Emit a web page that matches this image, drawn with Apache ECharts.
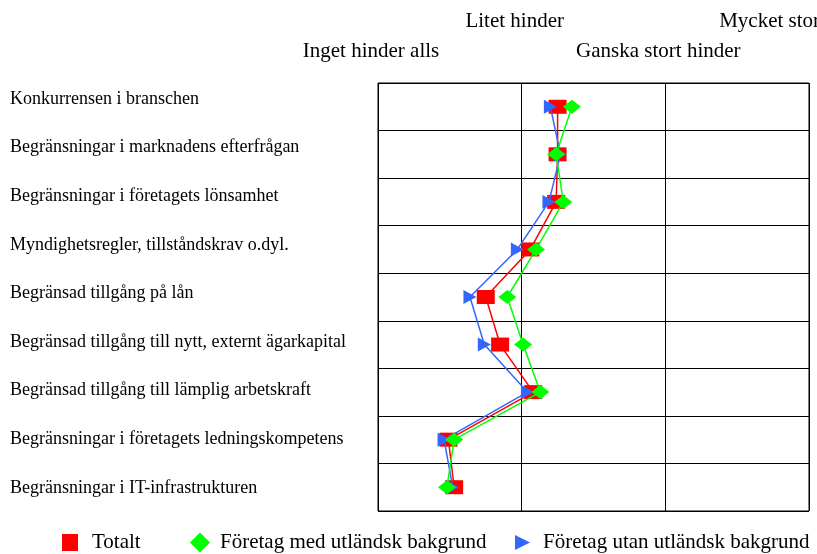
<!DOCTYPE html>
<html><head><meta charset="utf-8">
<script src="https://cdn.jsdelivr.net/npm/echarts@6/dist/echarts.min.js"></script>
<style>html,body{margin:0;padding:0;background:#fff}#c{width:817px;height:554px}</style>
</head><body><div id="c"></div>
<script>
const categories = [
  "Konkurrensen i branschen",
  "Begränsningar i marknadens efterfrågan",
  "Begränsningar i företagets lönsamhet",
  "Myndighetsregler, tillståndskrav o.dyl.",
  "Begränsad tillgång på lån",
  "Begränsad tillgång till nytt, externt ägarkapital",
  "Begränsad tillgång till lämplig arbetskraft",
  "Begränsningar i företagets ledningskompetens",
  "Begränsningar i IT-infrastrukturen"
];
const scaleLabels = ["Inget hinder alls", "Litet hinder", "Ganska stort hinder", "Mycket stort hinder"];
const totalt = [2.25, 2.25, 2.24, 2.06, 1.75, 1.85, 2.08, 1.49, 1.53];
const medUtl = [2.35, 2.24, 2.29, 2.10, 1.90, 2.01, 2.13, 1.53, 1.48];
const utanUtl = [2.20, 2.27, 2.19, 1.97, 1.64, 1.74, 2.04, 1.46, 1.52];
const seriesNames = ["Totalt", "Företag med utländsk bakgrund", "Företag utan utländsk bakgrund"];

const font = "'Liberation Serif','Times New Roman',serif";
const chart = echarts.init(document.getElementById('c'), null, {renderer: 'canvas'});
function toPairs(arr){ return arr.map((v,i)=>[v, categories[i]]); }
const triPath = 'path://M0,0 L10,5 L0,10 Z';
function scaleLabel(parity){
  return function(v){ const i = Math.round(v) - 1; return (i % 2 === parity) ? (scaleLabels[i] || '') : ''; };
}
const topLabelStyle = {fontFamily: font, fontSize: 21, color: '#000', padding: [0, 14, 0, 0],
  showMinLabel: true, showMaxLabel: true, hideOverlap: false};
chart.setOption({
  animation: false,
  textStyle: {fontFamily: font},
  grid: [
    {left: 378, top: 83, width: 431, height: 428, outerBoundsMode: 'none', containLabel: false,
     show: true, borderColor: '#000', borderWidth: 1, backgroundColor: 'transparent'},
    {left: 378, top: 74.7, width: 431, height: 437.6, outerBoundsMode: 'none', containLabel: false, show: false}
  ],
  xAxis: [
    {type: 'value', gridIndex: 0, position: 'top', min: 1, max: 4, interval: 1,
     axisLine: {show: false}, axisTick: {show: false},
     splitLine: {show: true, lineStyle: {color: '#000', width: 1}},
     axisLabel: Object.assign({margin: 21, formatter: scaleLabel(0)}, topLabelStyle)},
    {type: 'value', gridIndex: 0, position: 'top', min: 1, max: 4, interval: 1,
     axisLine: {show: false}, axisTick: {show: false}, splitLine: {show: false},
     axisLabel: Object.assign({margin: 51, formatter: scaleLabel(1)}, topLabelStyle)},
    {type: 'value', gridIndex: 1, show: false, min: 1, max: 4}
  ],
  yAxis: [
    {type: 'category', gridIndex: 0, data: categories, inverse: true,
     axisLine: {show: false}, axisTick: {show: false}, axisLabel: {show: false},
     splitLine: {show: true, lineStyle: {color: '#000', width: 1}}},
    {type: 'category', gridIndex: 1, data: categories, inverse: true,
     axisLine: {show: false}, axisTick: {show: false}, splitLine: {show: false},
     axisLabel: {fontFamily: font, fontSize: 18, color: '#000', align: 'left', margin: 368}}
  ],
  legend: [
    {data: [{name: seriesNames[0], icon: 'rect'}], left: 57, top: 527, itemWidth: 16, itemHeight: 17, itemGap: 0,
     textStyle: {fontFamily: font, fontSize: 21, color: '#000', padding: [0,0,0,9]}},
    {data: [{name: seriesNames[1], icon: 'diamond'}], left: 185, top: 527, itemWidth: 20, itemHeight: 20, itemGap: 0,
     textStyle: {fontFamily: font, fontSize: 21, color: '#000', padding: [0,0,0,5]}},
    {data: [{name: seriesNames[2], icon: triPath}], left: 510, top: 527, itemWidth: 15, itemHeight: 18, itemGap: 0,
     textStyle: {fontFamily: font, fontSize: 21, color: '#000', padding: [0,0,0,8]}}
  ],
  series: [
    {name: seriesNames[0], type: 'line', xAxisIndex: 0, yAxisIndex: 0, data: toPairs(totalt), z: 2,
     symbol: 'rect', symbolSize: [18, 14], showAllSymbol: true,
     itemStyle: {color: '#FF0000'}, lineStyle: {color: '#FF0000', width: 1.5}},
    {name: seriesNames[1], type: 'line', xAxisIndex: 0, yAxisIndex: 0, data: toPairs(medUtl), z: 4,
     symbol: 'diamond', symbolSize: [18, 14], showAllSymbol: true,
     itemStyle: {color: '#00FF00'}, lineStyle: {color: '#00FF00', width: 1.5}},
    {name: seriesNames[2], type: 'line', xAxisIndex: 0, yAxisIndex: 0, data: toPairs(utanUtl), z: 3,
     symbol: triPath, symbolSize: [13, 14], showAllSymbol: true,
     itemStyle: {color: '#3366FF'}, lineStyle: {color: '#3366FF', width: 1.5}}
  ]
});
</script></body></html>
